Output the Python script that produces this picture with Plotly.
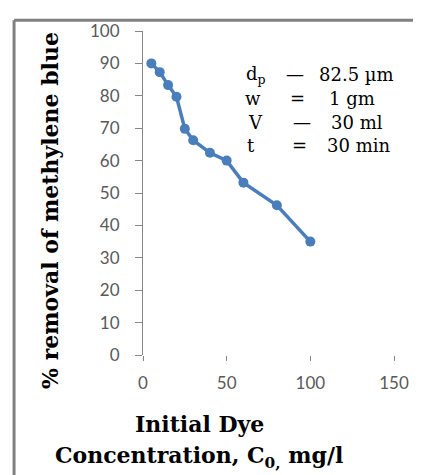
import plotly.graph_objects as go

# data
conc = [5, 10, 15, 20, 25, 30, 40, 50, 60, 80, 100]
removal = [90, 87.3, 83.3, 79.7, 69.8, 66.3, 62.4, 60, 53.2, 46.2, 35]
x_ticks = [0, 50, 100, 150]
y_ticks = [0, 10, 20, 30, 40, 50, 60, 70, 80, 90, 100]
param_names = ["d<sub>p</sub>", "w", "V", "t"]
param_signs = ["—", "=", "—", "="]
param_values = ["82.5 µm", "1 gm", "30 ml", "30 min"]

# page is offset by the browser's default 8px body margin
OFF = 8
W, H = 421, 475
PL, PR, PT, PB = 143, 398, 21, 355  # plot area in page pixels
PW, PH = PR - PL, PB - PT


def px(x):
    return (x - PL) / PW


def py(y):
    return (PB - y) / PH


fig = go.Figure()
fig.add_trace(go.Scatter(
    x=conc, y=removal, mode="lines+markers",
    line=dict(color="#4a7ebb", width=3.5),
    marker=dict(color="#4a7ebb", size=10),
    showlegend=False,
))

tickfont = dict(family="Lato", size=17, color="#595959")
fig.update_xaxes(range=[0, 150], tickvals=x_ticks, showline=False, showgrid=False,
                 zeroline=False, ticks="outside", ticklen=5, tickcolor="#868686",
                 tickfont=tickfont, ticklabelstandoff=8)
fig.update_yaxes(range=[0, 100], tickvals=y_ticks, showline=True, linecolor="#868686",
                 linewidth=1, showgrid=False, zeroline=False, ticks="outside", ticklen=7,
                 tickcolor="#868686", tickfont=tickfont, ticklabelstandoff=12)

serif_b = dict(family="DejaVu Serif", size=22, color="black", weight="bold")
ann = []
ann.append(dict(text="% removal of methylene blue", x=px(49), y=py(206), xref="paper",
                yref="paper", textangle=-90, showarrow=False, font=serif_b,
                xanchor="center", yanchor="middle"))
ann.append(dict(text="Initial Dye", x=px(200), y=py(426), xref="paper", yref="paper",
                showarrow=False, font=serif_b, xanchor="center", yanchor="middle"))
ann.append(dict(text="Concentration, C<sub>0,</sub> mg/l", x=px(200), y=py(460),
                xref="paper", yref="paper", showarrow=False, font=serif_b,
                xanchor="center", yanchor="middle"))

serif = dict(family="DejaVu Serif", size=18, color="black")
rows_y = [66, 91, 115, 139]
name_x = [246, 245, 248, 247]
sign_x = [297, 300, 305, 302]
val_x = [320, 330, 332, 328]
for i in range(len(param_names)):
    ann.append(dict(text=param_names[i], x=px(name_x[i]), y=py(rows_y[i]), xref="paper",
                    yref="paper", showarrow=False, font=serif, xanchor="left",
                    yanchor="middle"))
    ann.append(dict(text=param_signs[i], x=px(sign_x[i]), y=py(rows_y[i]), xref="paper",
                    yref="paper", showarrow=False, font=serif, xanchor="center",
                    yanchor="middle"))
    ann.append(dict(text=param_values[i], x=px(val_x[i]), y=py(rows_y[i]), xref="paper",
                    yref="paper", showarrow=False, font=serif, xanchor="left",
                    yanchor="middle"))

shapes = [
    dict(type="line", xref="paper", yref="paper", x0=px(12), x1=px(W + 5),
         y0=py(10), y1=py(10), line=dict(color="#808080", width=3)),
    dict(type="line", xref="paper", yref="paper", x0=px(12), x1=px(12),
         y0=py(10), y1=py(H + 5), line=dict(color="#808080", width=3)),
]

fig.update_layout(
    width=W - OFF, height=H - OFF,
    margin=dict(l=PL - OFF, r=W - PR, t=PT - OFF, b=H - PB),
    paper_bgcolor="white", plot_bgcolor="white",
    annotations=ann, shapes=shapes,
)

fig.write_html("out.html")
